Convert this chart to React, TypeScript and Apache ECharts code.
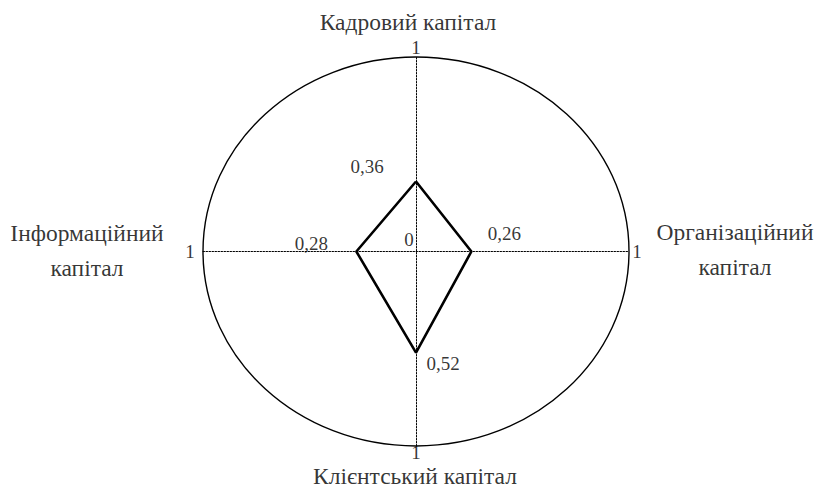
import React, { useEffect, useRef } from "react";
import * as echarts from "echarts";

// ---- data ----
const categories = [
  "Кадровий капітал",
  "Організаційний\nкапітал",
  "Клієнтський капітал",
  "Інформаційний\nкапітал",
];
const values = [0.36, 0.26, 0.52, 0.28];
const axisDirections = [
  [0, 1],
  [1, 0],
  [0, -1],
  [-1, 0],
];
const axisMax = 1;
const axisMaxLabel = "1";
const centerLabel = "0";

// ---- layout (pixel offsets for texts) ----
const categoryOffsets = [
  [-8, -35],
  [106, -2],
  [-1, 30],
  [-116, -1],
];
const tickOffsets = [
  [0, -10],
  [8, 0],
  [0, 6],
  [-13, 0],
];
const valueOffsets = [
  [-49, -15],
  [33, -18],
  [27, 11],
  [-45, -8],
];
const centerOffset = [-7, -12];

const FONT = "Times New Roman, Liberation Serif, DejaVu Serif, serif";
const CAT_SIZE = 23.5;
const NUM_SIZE = 19;
const fmt = (v: number) => v.toFixed(2).replace(".", ",");

export default function App() {
  const ref = useRef<HTMLDivElement>(null);
  useEffect(() => {
    if (!ref.current) return;
    const chart = echarts.init(ref.current, null, { renderer: "svg" });

    const polyPoints = values.map((v, i) => [
      v * axisDirections[i][0],
      v * axisDirections[i][1],
    ]);
    const closed = [...polyPoints, polyPoints[0]];

    const mk = (value: number[], text: string, off: number[], size: number) => ({
      value,
      label: {
        show: true,
        position: "inside",
        formatter: text,
        offset: off,
        fontSize: size,
        fontFamily: FONT,
        color: "#000",
        lineHeight: text.includes("\n") ? 35 : Math.round(size),
        align: "center",
        verticalAlign: "middle",
      },
    });

    const textItems: any[] = [];
    axisDirections.forEach((d, i) => {
      const end = [d[0] * axisMax, d[1] * axisMax];
      textItems.push(mk(end, categories[i], categoryOffsets[i], CAT_SIZE));
      textItems.push(mk(end, axisMaxLabel, tickOffsets[i], NUM_SIZE));
      textItems.push(mk(polyPoints[i], fmt(values[i]), valueOffsets[i], NUM_SIZE));
    });
    textItems.push(mk([0, 0], centerLabel, centerOffset, NUM_SIZE));

    chart.setOption({
      animation: false,
      backgroundColor: "#fff",
      textStyle: { fontFamily: FONT },
      grid: { left: 203, right: 187, top: 57, bottom: 42 },
      xAxis: {
        type: "value",
        min: -axisMax,
        max: axisMax,
        axisLine: { show: true, onZero: true, lineStyle: { color: "#000", width: 1, type: [1.5, 1.5] } },
        axisTick: { show: false },
        axisLabel: { show: false },
        splitLine: { show: false },
      },
      yAxis: {
        type: "value",
        min: -axisMax,
        max: axisMax,
        axisLine: { show: true, onZero: true, lineStyle: { color: "#000", width: 1, type: [1.5, 1.5] } },
        axisTick: { show: false },
        axisLabel: { show: false },
        splitLine: { show: false },
      },
      series: [
        {
          type: "custom",
          data: [[0, 0]],
          clip: false,
          silent: true,
          renderItem: (params: any, api: any) => {
            const c = api.coord([0, 0]);
            const p = api.coord([axisMax, axisMax]);
            return {
              type: "ellipse",
              shape: { cx: c[0], cy: c[1], rx: p[0] - c[0], ry: c[1] - p[1] },
              style: { fill: "none", stroke: "#000", lineWidth: 1.4 },
            };
          },
        },
        {
          type: "line",
          data: closed,
          symbol: "none",
          lineStyle: { color: "#000", width: 2.6 },
          silent: true,
        },
        {
          type: "scatter",
          data: textItems,
          symbolSize: 1,
          itemStyle: { color: "rgba(0,0,0,0)" },
          silent: true,
          clip: false,
        },
      ],
    });
    return () => chart.dispose();
  }, []);
  return (
    <div
      ref={ref}
      style={{ position: "fixed", left: 0, top: 0, width: 816, height: 488, background: "#fff" }}
    />
  );
}
